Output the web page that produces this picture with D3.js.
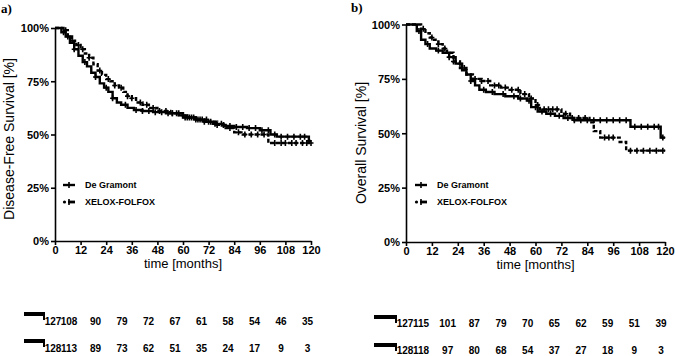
<!DOCTYPE html>
<html><head><meta charset="utf-8">
<script src="https://cdn.jsdelivr.net/npm/d3@7"></script>
<style>
body{margin:0;background:#fff;}
svg{display:block;}
text{font-family:"Liberation Sans",Arial,sans-serif;fill:#000;}
</style></head><body>
<svg id="c" width="675" height="356"></svg>
<script>
// ---------- DATA ----------
const monthTicks = [0,12,24,36,48,60,72,84,96,108,120];
const pctTicks = [0,25,50,75,100];
const seriesNames = ["De Gramont","XELOX-FOLFOX"];

// Panel a: Disease-Free Survival
const dfsGramontT = [0,3,5,7,9,11,13,15,17,19,21,23,25,27,29,31,34,37,41,46,52,58,62,66,70,74,79,84,90,96,101,104,119];
const dfsGramontS = [100,98,96,93,90,87,84,82,79,77,74,72,70,67,65,64,62.5,61.5,61,60.5,60,59,58,57,56,55,54,53.5,53,52,50,49,47];
const dfsXeloxT = [0,4,6,8,10,12,14,16,18,20,22,24,26,28,30,32,34,36,38,41,44,48,54,60,66,72,76,80,84,88,100];
const dfsXeloxS = [100,99,96,94,92,90,88,86,83,80,78,76,75,73,72,70,68,67,65,64,62.5,61,60,58,57,56,54.5,53,51,50,46];
const dfsGramontCens = [4,6,9,14,19,24,27,33,38,41,44,47,50,53,55,57,60,62,64,66,68,70,72,75,78,82,85,88,91,94,97,100,103,106,109,112,115,117,119];
const dfsXeloxCens = [5,8,11,13,16,21,25,28,31,34,36,40,43,46,49,52,55,58,61,63,65,67,69,71,73,76,79,82,86,89,92,95,98,103,106,108,111,113,116,118,120];
const dfsRiskGramont = [127,108,90,79,72,67,61,58,54,46,35];
const dfsRiskXelox = [128,113,89,73,62,51,35,24,17,9,3];

// Panel b: Overall Survival
const osGramontT = [0,5,7,9,11,14,17,20,23,26,28,30,32,34,37,41,46,52,56,58,61,65,69,73,78,104,118];
const osGramontS = [100,97,93,91,89,88,87,85,82,79,77,74,72,70,69,68,67,66,65,62,60,59,58,57,56,53,48];
const osXeloxT = [0,7,9,11,13,15,17,19,22,25,28,31,35,39,44,48,53,57,60,62,72,76,85,87,90,99,102];
const osXeloxS = [100,98,96,94,93,91,89,87,83,80,77,75,74,72,71,70,68,66,63,61,59,57,55,51,48,46,42];
const osGramontCens = [6,10,15,20,25,30,36,40,45,50,53,57,60,63,67,71,75,78,81,84,87,90,93,96,99,102,106,109,112,115,117,119];
const osXeloxCens = [8,12,15,18,22,27,32,35,38,41,43,46,49,52,55,58,61,64,66,68,70,74,77,80,83,92,94,96,104,107,110,113,116,119];
const osRiskGramont = [127,115,101,87,79,70,65,62,59,51,39];
const osRiskXelox = [128,118,97,80,68,54,37,27,18,9,3];

// ---------- DRAW ----------
const svg = d3.select("#c");

function stepValue(T,S,t){ let v=S[0]; for(let i=0;i<T.length;i++){ if(T[i]<=t) v=S[i]; } return v; }

function panel(cfg){
  const g = svg.append("g");
  const x = d3.scaleLinear().domain([0,120]).range(cfg.xr);
  const y = d3.scaleLinear().domain([0,100]).range(cfg.yr);

  g.append("text").attr("x",cfg.lab[0]).attr("y",cfg.lab[1]).text(cfg.label)
    .style("font-family","'Liberation Serif','Times New Roman',serif").style("font-weight","bold").style("font-size","13px");

  const ax = g.append("g").attr("transform",`translate(0,${cfg.yr[0]})`)
    .call(d3.axisBottom(x).tickValues(monthTicks).tickSize(4).tickSizeOuter(0).tickPadding(1));
  const ay = g.append("g").attr("transform",`translate(${cfg.xr[0]},0)`)
    .call(d3.axisLeft(y).tickValues(pctTicks).tickFormat(d=>d+"%").tickSize(4).tickSizeOuter(0).tickPadding(2));
  [ax,ay].forEach(a=>{
    a.select(".domain").attr("stroke","#000").attr("stroke-width",1.6);
    a.selectAll(".tick line").attr("stroke","#000").attr("stroke-width",1.6);
    a.selectAll(".tick text").style("font-size","11px").style("font-weight","bold").style("font-family","'Liberation Sans',Arial,sans-serif");
  });
  ay.selectAll(".tick text").attr("dy","0.36em");

  g.append("text").attr("x",(cfg.xr[0]+cfg.xr[1])/2).attr("y",cfg.xTitleY).attr("text-anchor","middle")
    .style("font-size","13px").text("time [months]");
  g.append("text").attr("transform",`translate(${cfg.yTitle[0]},${cfg.yTitle[1]}) rotate(-90)`)
    .attr("text-anchor","middle").attr("dy","0.35em").style("font-size","14px").text(cfg.yTitleText);

  const line = d3.line().x(d=>x(d[0])).y(d=>y(d[1])).curve(d3.curveStepAfter);
  const series = [
    {T:cfg.gT,S:cfg.gS,C:cfg.gC,dash:null},
    {T:cfg.xT,S:cfg.xS,C:cfg.xC,dash:"4,2"}
  ];
  series.forEach(s=>{
    const pts = s.T.map((t,i)=>[t,s.S[i]]);
    pts.push([120,s.S[s.S.length-1]]);
    g.append("path").datum(pts).attr("d",line).attr("fill","none").attr("stroke","#000")
      .attr("stroke-width",2.4).attr("stroke-dasharray",s.dash);
    g.append("g").selectAll("path").data(s.C).join("path")
      .attr("d",d=>{const px=x(d),py=y(stepValue(s.T,s.S,d));return `M${px-2.5},${py}H${px+2.5}M${px},${py-3}V${py+3}`;})
      .attr("stroke","#000").attr("stroke-width",1.6).attr("fill","none");
  });

  const lg = g.append("g");
  seriesNames.forEach((n,i)=>{
    const ly = cfg.leg[1] + i*17;
    const lx = cfg.leg[0];
    if(i===0){
      lg.append("path").attr("d",`M${lx},${ly}H${lx+12}`).attr("stroke","#000").attr("stroke-width",2.4);
    } else {
      lg.append("circle").attr("cx",lx+1.5).attr("cy",ly).attr("r",1.6).attr("fill","#000");
      lg.append("path").attr("d",`M${lx+5},${ly}H${lx+12}`).attr("stroke","#000").attr("stroke-width",2.8);
    }
    lg.append("path").attr("d",`M${lx+6},${ly-3}V${ly+3}`).attr("stroke","#000").attr("stroke-width",1.6);
    lg.append("text").attr("x",lx+22).attr("y",ly).attr("dy","0.35em")
      .style("font-size","9px").style("font-weight","bold").text(n);
  });

  const col = d3.scaleLinear().domain([1,10]).range(cfg.colR);
  [cfg.rG,cfg.rX].forEach((arr,r)=>{
    const by = cfg.barY[r];
    g.append("rect").attr("x",cfg.barX[0]).attr("y",by-2).attr("width",cfg.barX[1]-cfg.barX[0]).attr("height",4).attr("fill","#000");
    g.append("rect").attr("x",cfg.barX[1]-2).attr("y",by-2).attr("width",2).attr("height",8).attr("fill","#000");
    g.append("g").selectAll("text").data(arr).join("text")
      .attr("x",(d,i)=> i===0 ? col(1)-16 : col(i))
      .attr("y",cfg.rowY[r]).attr("text-anchor","middle")
      .style("font-size","10px").style("font-weight","bold").text(d=>d);
  });
}

panel({label:"a)",lab:[1,13],xr:[55,311],yr:[241,28],xTitleY:268,yTitle:[9,139],yTitleText:"Disease-Free Survival [%]",
  gT:dfsGramontT,gS:dfsGramontS,gC:dfsGramontCens,xT:dfsXeloxT,xS:dfsXeloxS,xC:dfsXeloxCens,
  leg:[63,185],colR:[69,307.5],barX:[24,45],barY:[314,341],rowY:[324.5,351.5],rG:dfsRiskGramont,rX:dfsRiskXelox});

panel({label:"b)",lab:[351,12],xr:[406,665],yr:[242,24.5],xTitleY:269,yTitle:[361.5,143],yTitleText:"Overall Survival [%]",
  gT:osGramontT,gS:osGramontS,gC:osGramontCens,xT:osXeloxT,xS:osXeloxS,xC:osXeloxCens,
  leg:[415,185],colR:[421,661],barX:[374,397],barY:[317,345],rowY:[326.5,354],rG:osRiskGramont,rX:osRiskXelox});
</script></body></html>
